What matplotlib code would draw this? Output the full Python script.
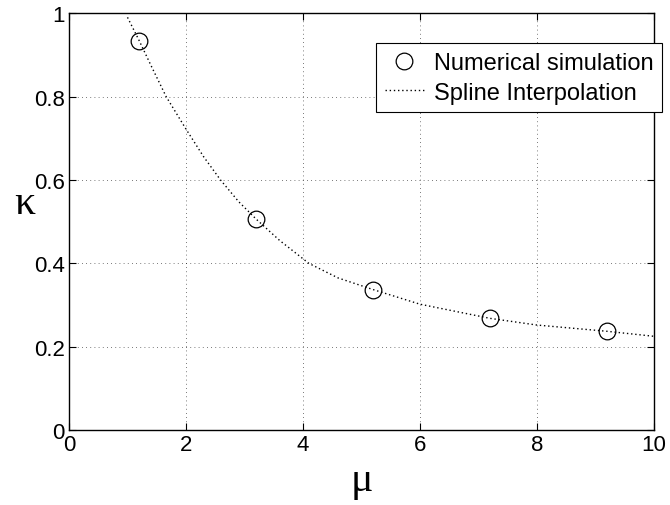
import matplotlib.pyplot as plt
import numpy as np

plt.rcParams['font.family'] = ['Liberation Sans', 'DejaVu Sans']

### Numerical simulation points.
mu_sim = [1.2, 3.2, 5.2, 7.2, 9.2]
kappa_sim = [0.934, 0.506, 0.337, 0.268, 0.237]

### Spline curve.
mu_spl = [1.0, 1.2, 1.4, 1.66, 2.0, 2.3, 2.59, 2.9, 3.2, 3.6, 4.1, 4.6, 5.2, 6.0, 7.2, 8.0, 9.2, 10.0]
kappa_spl = [0.99, 0.934, 0.875, 0.80, 0.722, 0.656, 0.60, 0.548, 0.506, 0.455, 0.40, 0.365, 0.337, 0.302, 0.268, 0.252, 0.237, 0.225]

x_ticks = [0, 2, 4, 6, 8, 10]
y_ticks = [0, 0.2, 0.4, 0.6, 0.8, 1]
y_tick_labels = ['0', '0.2', '0.4', '0.6', '0.8', '1']

fig = plt.figure(figsize=(6.7, 5.06), dpi=100)
ax = fig.add_axes([0.103, 0.148, 0.873, 0.824])

ax.plot(mu_sim, kappa_sim, 'ko', mfc='none', ms=12, mew=0.9, label='Numerical simulation')
ax.plot(mu_spl, kappa_spl, 'k', ls=(0, (1, 2)), lw=1.0, label='Spline Interpolation')

ax.set_xlim(0, 10)
ax.set_ylim(0, 1)
ax.set_xticks(x_ticks)
ax.set_yticks(y_ticks)
ax.set_yticklabels(y_tick_labels)
ax.tick_params(direction='in', length=5, width=0.8, labelsize=16,
               top=True, right=True, pad=3)
ax.grid(True, color='k', ls=(0, (1, 4)), lw=0.6, alpha=0.7)
for s in ax.spines.values():
    s.set_linewidth(1.0)

ax.set_xlabel('μ', family=['Liberation Serif', 'DejaVu Serif'], fontsize=30, labelpad=4)
ax.set_ylabel('κ', family=['Liberation Serif', 'DejaVu Serif'], fontsize=30, rotation=0)
ax.yaxis.set_label_coords(-0.075, 0.50)

leg = ax.legend(loc='upper right', bbox_to_anchor=(1.0137, 0.928), fontsize=17,
                frameon=True, fancybox=False, edgecolor='k', framealpha=1,
                markerfirst=True, handlelength=1.65, borderpad=0.37,
                labelspacing=0.33, handletextpad=0.42, borderaxespad=0)
leg.get_frame().set_linewidth(0.8)
for t in leg.get_texts():
    t.set_ha('right')
leg._legend_box.align = 'right'

fig.savefig('out.png', dpi=100)
